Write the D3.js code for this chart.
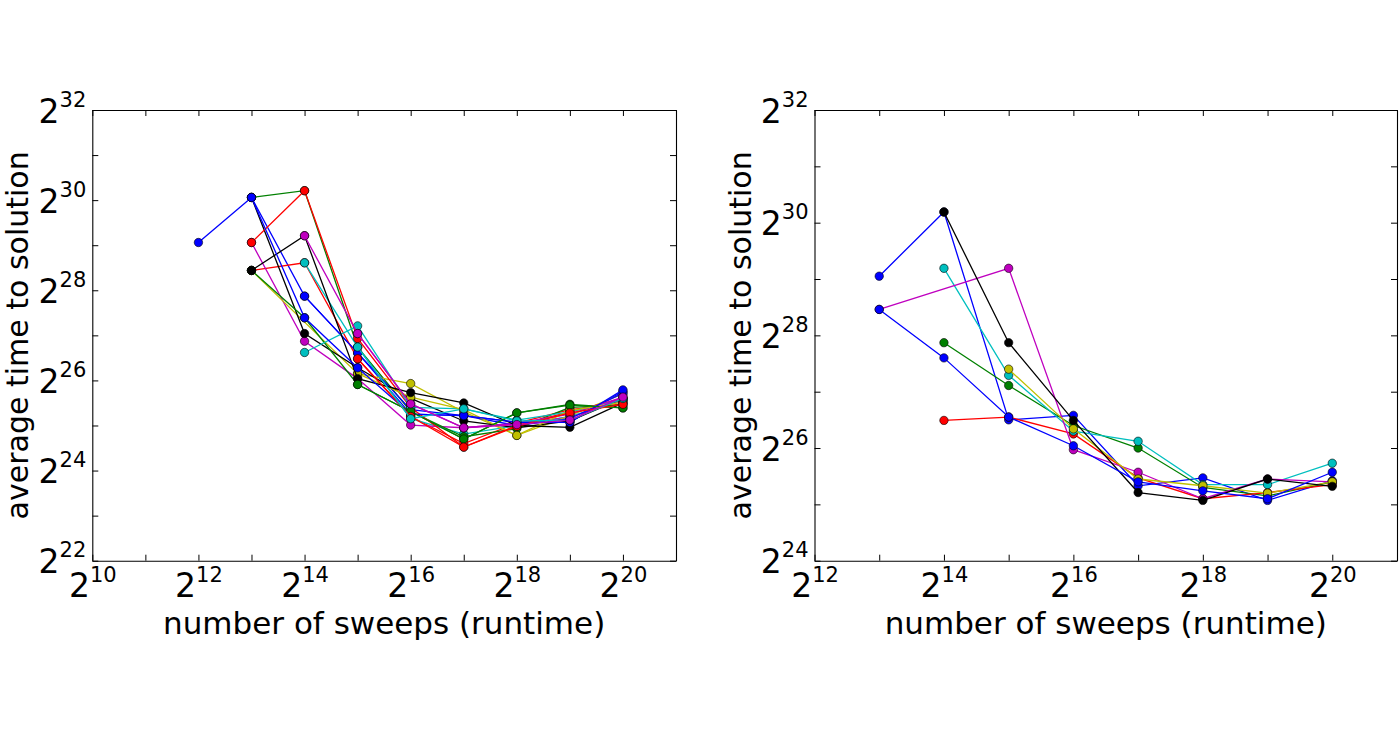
<!DOCTYPE html>
<html>
<head>
<meta charset="utf-8">
<script src="https://cdn.jsdelivr.net/npm/d3@7"></script>
<style>
  body { margin: 0; background: #ffffff; }
  svg { font-family: "DejaVu Sans", sans-serif; }
</style>
</head>
<body>
<script>
// ************** Data: each run is a list of [log2(sweeps), log2(average time)] *****************
var leftRuns = [
  [[12, 29.06], [13, 30.06], [14, 27.87], [15, 26.61], [16, 25.25], [17, 25.22], [18, 25.07], [19, 25.07], [20, 25.76]],
  [[13, 30.06], [14, 30.21], [15, 26.74], [16, 25.31], [17, 24.70], [18, 25.28], [19, 25.47], [20, 25.39]],
  [[13, 28.44], [14, 28.61], [15, 26.48], [16, 25.20], [17, 24.60], [18, 25.05], [19, 25.35], [20, 25.48]],
  [[14, 28.61], [15, 26.74], [16, 25.15], [17, 24.81], [18, 25.00], [19, 25.20], [20, 25.55]],
  [[13, 29.06], [14, 26.87], [15, 26.04], [16, 25.01], [17, 24.95], [18, 25.05], [19, 25.18], [20, 25.56]],
  [[13, 28.44], [15, 26.15], [16, 25.93], [17, 25.30], [18, 24.78], [19, 25.22], [20, 25.70]],
  [[13, 30.06], [14, 27.04], [15, 26.28], [16, 25.60], [17, 25.10], [18, 24.95], [19, 25.10], [20, 25.60]],
  [[14, 27.87], [15, 26.61], [16, 25.35], [17, 25.22], [18, 25.00], [19, 25.15], [20, 25.72]],
  [[13, 28.44], [14, 27.39], [15, 25.91], [16, 25.31], [17, 24.75], [18, 24.93], [19, 25.40], [20, 25.45]],
  [[13, 29.06], [14, 30.21], [15, 26.93], [16, 25.40], [17, 24.52], [18, 25.00], [19, 25.30], [20, 25.60]],
  [[14, 26.62], [15, 27.21], [16, 25.40], [17, 25.37], [18, 25.12], [19, 25.30], [20, 25.58]],
  [[15, 27.04], [16, 25.48], [17, 24.95], [18, 25.05], [19, 25.25], [20, 25.63]],
  [[15, 26.15], [16, 25.63], [17, 25.35], [18, 24.78], [19, 25.33], [20, 25.52]],
  [[13, 28.44], [14, 29.21], [15, 26.04], [16, 25.73], [17, 25.50], [18, 25.00], [19, 24.96], [20, 25.50]],
  [[13, 30.06], [14, 27.39], [15, 26.28], [16, 25.25], [17, 25.22], [18, 25.07], [19, 25.07], [20, 25.79]],
  [[15, 25.91], [16, 25.31], [17, 24.70], [18, 25.28], [19, 25.45], [20, 25.39]],
  [[15, 26.48], [16, 25.20], [17, 24.52], [18, 24.98], [19, 25.28], [20, 25.47]],
  [[15, 26.74], [16, 25.15], [17, 25.37], [18, 25.10], [19, 25.12], [20, 25.60]],
  [[14, 29.21], [15, 27.04], [16, 25.48], [17, 24.95], [18, 25.02], [19, 25.12], [20, 25.63]]
];

var rightRuns = [
  [[13, 29.05], [14, 30.19], [15, 26.50], [16, 26.58], [17, 25.33], [18, 25.47], [19, 25.07], [20, 25.42]],
  [[14, 27.87], [15, 27.11], [16, 26.40], [17, 26.00], [18, 25.30], [19, 25.15], [20, 25.40]],
  [[14, 26.49], [15, 26.55], [16, 26.25], [17, 25.47], [18, 25.10], [19, 25.21], [20, 25.35]],
  [[14, 29.19], [15, 27.29], [16, 26.30], [17, 26.12], [18, 25.35], [19, 25.35], [20, 25.73]],
  [[13, 28.46], [15, 29.19], [16, 25.97], [17, 25.57], [18, 25.10], [19, 25.45], [20, 25.40]],
  [[15, 27.40], [16, 26.34], [17, 25.45], [18, 25.33], [19, 25.20], [20, 25.40]],
  [[14, 30.19], [15, 27.87], [16, 26.49], [17, 25.21], [18, 25.07], [19, 25.45], [20, 25.32]],
  [[13, 28.46], [14, 27.60], [15, 26.55], [16, 26.04], [17, 25.40], [18, 25.24], [19, 25.10], [20, 25.57]]
];

// tick exponents (every power of two gets a tick, only some get a label)
var leftXTicks = [10, 11, 12, 13, 14, 15, 16, 17, 18, 19, 20, 21],
    leftXLabels = [10, 12, 14, 16, 18, 20],
    leftYTicks = [22, 23, 24, 25, 26, 27, 28, 29, 30, 31, 32],
    leftYLabels = [22, 24, 26, 28, 30, 32];

var rightXTicks = [12, 13, 14, 15, 16, 17, 18, 19, 20, 21],
    rightXLabels = [12, 14, 16, 18, 20],
    rightYTicks = [24, 25, 26, 27, 28, 29, 30, 31, 32],
    rightYLabels = [24, 26, 28, 30, 32];

var xTitle = "number of sweeps (runtime)",
    yTitle = "average time to solution";

// old matplotlib colour cycle: b, g, r, c, m, y, k
var colorCycle = ["#0000ff", "#008000", "#ff0000", "#00bfbf", "#bf00bf", "#bfbf00", "#000000"];

var svg = d3.select("body").append("svg")
  .attr("width", 1400)
  .attr("height", 731);

drawPanel({left: 92.3, top: 110, width: 583.7, height: 450.7},
  leftRuns, leftXTicks, leftXLabels, leftYTicks, leftYLabels);
drawPanel({left: 814.5, top: 110, width: 582.5, height: 450.7},
  rightRuns, rightXTicks, rightXLabels, rightYTicks, rightYLabels);

function pow2(e) { return Math.pow(2, e); }

function drawPanel(box, runs, xTicks, xLabels, yTicks, yLabels) {
  var x = d3.scaleLog().base(2)
    .domain([pow2(xTicks[0]), pow2(xTicks[xTicks.length - 1])])
    .range([0, box.width]);
  var y = d3.scaleLog().base(2)
    .domain([pow2(yTicks[0]), pow2(yTicks[yTicks.length - 1])])
    .range([box.height, 0]);

  var g = svg.append("g")
    .attr("transform", "translate(" + box.left + "," + box.top + ")");

  var line = d3.line()
    .x(function(d) { return x(pow2(d[0])); })
    .y(function(d) { return y(pow2(d[1])); });

  // each run: line first, then its markers (so later runs sit on top)
  runs.forEach(function(run, i) {
    var color = colorCycle[i % colorCycle.length];
    var runG = g.append("g");
    runG.append("path")
      .datum(run)
      .attr("d", line)
      .attr("fill", "none")
      .attr("stroke", color)
      .attr("stroke-width", 1.3);
    runG.selectAll("circle")
      .data(run)
      .enter().append("circle")
      .attr("cx", function(d) { return x(pow2(d[0])); })
      .attr("cy", function(d) { return y(pow2(d[1])); })
      .attr("r", 4.2)
      .attr("fill", color)
      .attr("stroke", "#000")
      .attr("stroke-width", 0.6);
  });

  var xLabelFormat = function(d) {
    var e = Math.round(Math.log2(d));
    return xLabels.indexOf(e) >= 0 ? String(e) : "";
  };
  var yLabelFormat = function(d) {
    var e = Math.round(Math.log2(d));
    return yLabels.indexOf(e) >= 0 ? String(e) : "";
  };

  var bottom = g.append("g")
    .attr("transform", "translate(0," + box.height + ")")
    .call(d3.axisBottom(x).tickValues(xTicks.map(pow2)).tickFormat(xLabelFormat)
      .tickSizeInner(-6).tickSizeOuter(0).tickPadding(36));
  var left = g.append("g")
    .call(d3.axisLeft(y).tickValues(yTicks.map(pow2)).tickFormat(yLabelFormat)
      .tickSizeInner(-6).tickSizeOuter(0).tickPadding(6));
  g.append("g")
    .call(d3.axisTop(x).tickValues(xTicks.map(pow2)).tickFormat("")
      .tickSizeInner(-6).tickSizeOuter(0));
  g.append("g")
    .attr("transform", "translate(" + box.width + ",0)")
    .call(d3.axisRight(y).tickValues(yTicks.map(pow2)).tickFormat("")
      .tickSizeInner(-6).tickSizeOuter(0));

  g.selectAll(".domain").attr("stroke", "#000").attr("stroke-width", 1.1);
  g.selectAll(".tick line").attr("stroke", "#000").attr("stroke-width", 1);

  // turn "12" into 2 with a superscript 12
  powerLabels(bottom.selectAll(".tick text").attr("dy", 0), -15);
  powerLabels(left.selectAll(".tick text").attr("dy", 12), -16);

  // axis titles
  g.append("text")
    .attr("x", box.width / 2)
    .attr("y", box.height + 73)
    .attr("text-anchor", "middle")
    .attr("font-size", 31)
    .attr("fill", "#000")
    .text(xTitle);
  g.append("text")
    .attr("transform", "translate(-64," + (box.height / 2) + ") rotate(-90)")
    .attr("text-anchor", "middle")
    .attr("font-size", 30)
    .attr("fill", "#000")
    .text(yTitle);
}

function powerLabels(texts, supShift) {
  texts.each(function() {
    var t = d3.select(this),
        e = t.text();
    t.text("")
      .attr("font-size", 33)
      .attr("font-family", "DejaVu Sans")
      .attr("fill", "#000");
    if (e === "") return;
    t.append("tspan").text("2");
    t.append("tspan")
      .attr("dy", supShift)
      .attr("font-size", 21)
      .text(e);
  });
}
</script>
</body>
</html>
